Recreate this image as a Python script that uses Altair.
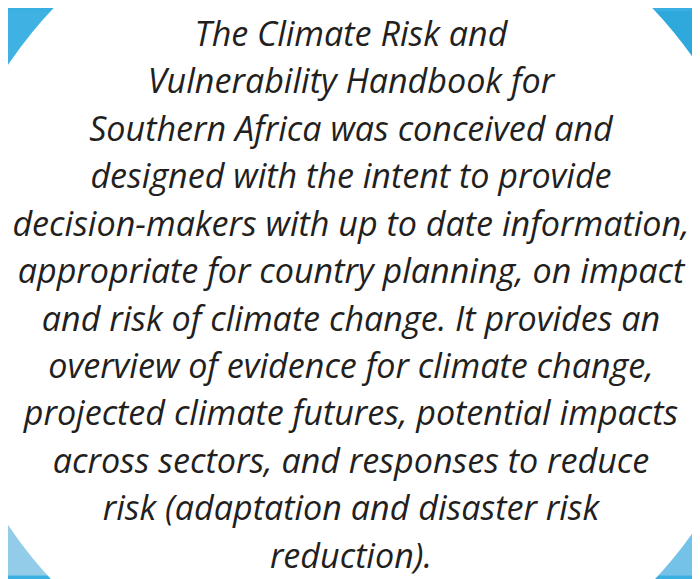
import altair as alt
import pandas as pd

lines = [
    "The Climate Risk and",
    "Vulnerability Handbook for",
    "Southern Africa was conceived and",
    "designed with the intent to provide",
    "decision-makers with up to date information,",
    "appropriate for country planning, on impact",
    "and risk of climate change. It provides an",
    "overview of evidence for climate change,",
    "projected climate futures, potential impacts",
    "across sectors, and responses to reduce",
    "risk (adaptation and disaster risk",
    "reduction).",
]
line_y = [33, 81, 129, 177, 225, 273, 321, 369, 417, 465, 513, 561]
text_x = [355] * len(lines)

# decorative circle (centre in reference-pixel units)
circle_cx = [357]
circle_cy = [295]

# corner background tints
corner_x0 = [0, 357, 0, 357]
corner_x1 = [357, 700, 357, 700]
corner_y0 = [0, 0, 295, 295]
corner_y1 = [295, 295, 579, 579]
corner_col = ["#3fb1e2", "#2fa8dc", "#92cce9", "#74c2e8"]

text_df = pd.DataFrame({"line": lines, "x": text_x, "y": line_y})
circ_df = pd.DataFrame({"x": circle_cx, "y": circle_cy})
corner_df = pd.DataFrame({"x0": corner_x0, "x1": corner_x1, "y0": corner_y0,
                          "y1": corner_y1, "c": corner_col})

W, H = 692, 571
xs = alt.Scale(domain=[8, 700], nice=False, zero=False)
ys = alt.Scale(domain=[8, 579], nice=False, zero=False, reverse=True)

corners = alt.Chart(corner_df).mark_rect(clip=True).encode(
    x=alt.X("x0:Q", scale=xs, axis=None), x2="x1:Q",
    y=alt.Y("y0:Q", scale=ys, axis=None), y2="y1:Q",
    color=alt.Color("c:N", scale=None),
)
disc = alt.Chart(circ_df).mark_arc(
    theta=0, theta2=6.2832, radius=419.5, color="#ffffff"
).encode(
    x=alt.X("x:Q", scale=xs, axis=None),
    y=alt.Y("y:Q", scale=ys, axis=None),
)
txt = alt.Chart(text_df).mark_text(
    font="Open Sans", fontStyle="italic", fontSize=34.5, color="#231f20",
    align="center", baseline="middle",
).encode(
    x=alt.X("x:Q", scale=xs, axis=None),
    y=alt.Y("y:Q", scale=ys, axis=None),
    text="line:N",
)

chart = alt.layer(corners, disc, txt).properties(
    width=W, height=H, background="#3aafe1", padding=0,
    autosize=alt.AutoSizeParams(type="none"),
).configure_view(stroke=None)

chart.save("out.html", embed_options={"renderer": "svg", "actions": False})
